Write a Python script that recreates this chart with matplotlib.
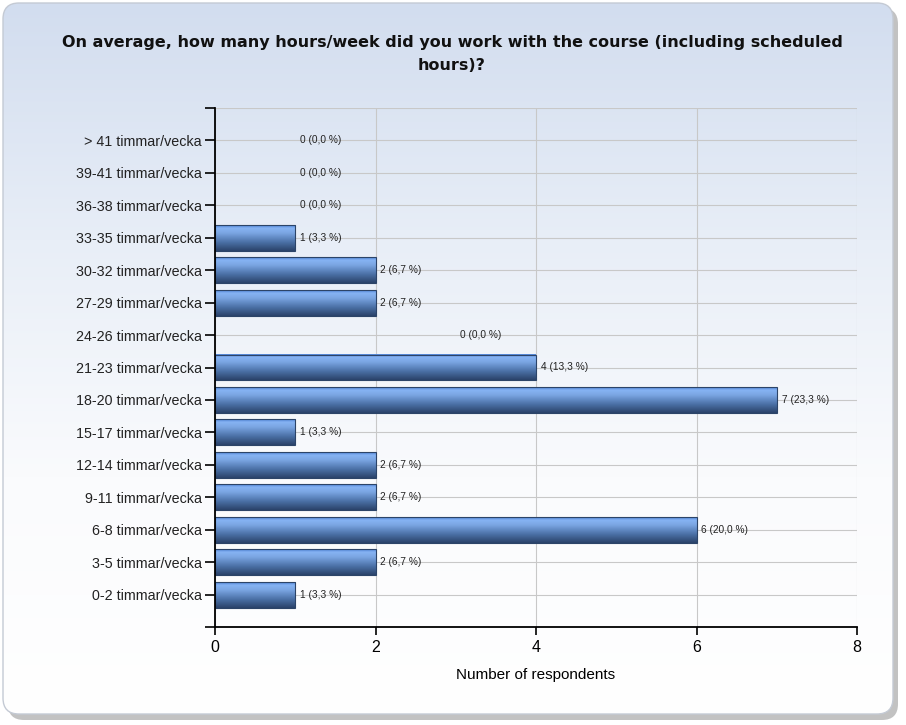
import numpy as np
import matplotlib.pyplot as plt
from matplotlib.patches import FancyBboxPatch
from matplotlib.colors import LinearSegmentedColormap

categories = ["0-2 timmar/vecka", "3-5 timmar/vecka", "6-8 timmar/vecka",
              "9-11 timmar/vecka", "12-14 timmar/vecka", "15-17 timmar/vecka",
              "18-20 timmar/vecka", "21-23 timmar/vecka", "24-26 timmar/vecka",
              "27-29 timmar/vecka", "30-32 timmar/vecka", "33-35 timmar/vecka",
              "36-38 timmar/vecka", "39-41 timmar/vecka", "> 41 timmar/vecka"]
counts = [1, 2, 6, 2, 2, 1, 7, 4, 0, 2, 2, 1, 0, 0, 0]
percents = ["3,3", "6,7", "20,0", "6,7", "6,7", "3,3", "23,3", "13,3", "0,0",
            "6,7", "6,7", "3,3", "0,0", "0,0", "0,0"]
xticks = [0, 2, 4, 6, 8]

title = "On average, how many hours/week did you work with the course (including scheduled\nhours)?"

W, H = 906, 725
fig = plt.figure(figsize=(W / 100, H / 100), dpi=100)

# background panel with shadow and gradient
bg = fig.add_axes([0, 0, 1, 1])
bg.set_xlim(0, W)
bg.set_ylim(H, 0)
bg.axis("off")
shadow = FancyBboxPatch((8, 8), 890, 712, boxstyle="round,pad=0,rounding_size=16",
                        fc="#9a9a9a", ec="none", alpha=0.6)
bg.add_patch(shadow)
panel = FancyBboxPatch((3, 3), 890, 711, boxstyle="round,pad=0,rounding_size=16",
                       fc="none", ec="#c4cad4", lw=1)
bg.add_patch(panel)
grad = np.linspace(0, 1, 256).reshape(-1, 1)
bg_cmap = LinearSegmentedColormap.from_list("bg", ["#d2ddef", "#e8eef7", "#fafbfd", "#ffffff"])
im = bg.imshow(grad, cmap=bg_cmap, extent=(3, 893, 714, 3), aspect="auto", zorder=1)
im.set_clip_path(panel)
panel.set_zorder(2)

fig.text(452 / W, 1 - 54 / H, title, ha="center", va="center", fontsize=11.5,
         fontweight="bold", family="DejaVu Sans", color="#111111", linespacing=1.75)

ax = fig.add_axes([215 / W, 1 - 627 / H, (857 - 215) / W, (627 - 108) / H])
ax.patch.set_alpha(0)

y = np.arange(len(categories))
bars = ax.barh(y, counts, height=0.8, color="none", edgecolor="none", zorder=3)

bar_cmap = LinearSegmentedColormap.from_list(
    "bar", [(0.0, "#4f83d6"), (0.12, "#86b3f3"), (0.3, "#7ba6e3"),
            (0.65, "#4c72a8"), (1.0, "#2a4269")])
for b in bars:
    w = b.get_width()
    if w <= 0:
        continue
    x0, y0, h = b.get_x(), b.get_y(), b.get_height()
    ax.imshow(grad, cmap=bar_cmap, extent=(x0, x0 + w, y0, y0 + h),
              aspect="auto", zorder=3)
    ax.add_patch(plt.Rectangle((x0, y0), w, h, fc="none", ec="#2c4468", lw=0.8, zorder=4))

# value labels (zero rows get their label placed out in the plot like the original)
zero_x = {8: 3.05}
for yi, c, p in zip(y, counts, percents):
    lx = c + 0.06 if c > 0 else zero_x.get(yi, 1.06)
    ax.text(lx, yi, f"{c} ({p} %)", va="center", ha="left", fontsize=7.3,
            family="Liberation Sans", color="#222222", zorder=5)

ax.set_xlim(0, 8)
ax.set_ylim(-1, 15)
ax.set_xticks(xticks)
ax.set_xticklabels([str(t) for t in xticks], fontsize=11.5, family="Liberation Sans")
ax.set_yticks(np.arange(-1, 16))
ax.set_yticklabels([""] + categories + [""], fontsize=10.3, family="Liberation Sans",
                   color="#222222")
ax.tick_params(axis="y", length=7.5, width=1.2, pad=2)
ax.tick_params(axis="x", length=6, width=1.2, pad=3)
ax.grid(True, color="#c8c8c8", lw=0.8, zorder=0)
ax.set_axisbelow(True)
for s in ["top", "right"]:
    ax.spines[s].set_visible(False)
for s in ["left", "bottom"]:
    ax.spines[s].set_linewidth(1.3)
    ax.spines[s].set_zorder(6)

ax.set_xlabel("Number of respondents", fontsize=11, family="Liberation Sans", labelpad=10)

fig.savefig("out.png", dpi=100)
